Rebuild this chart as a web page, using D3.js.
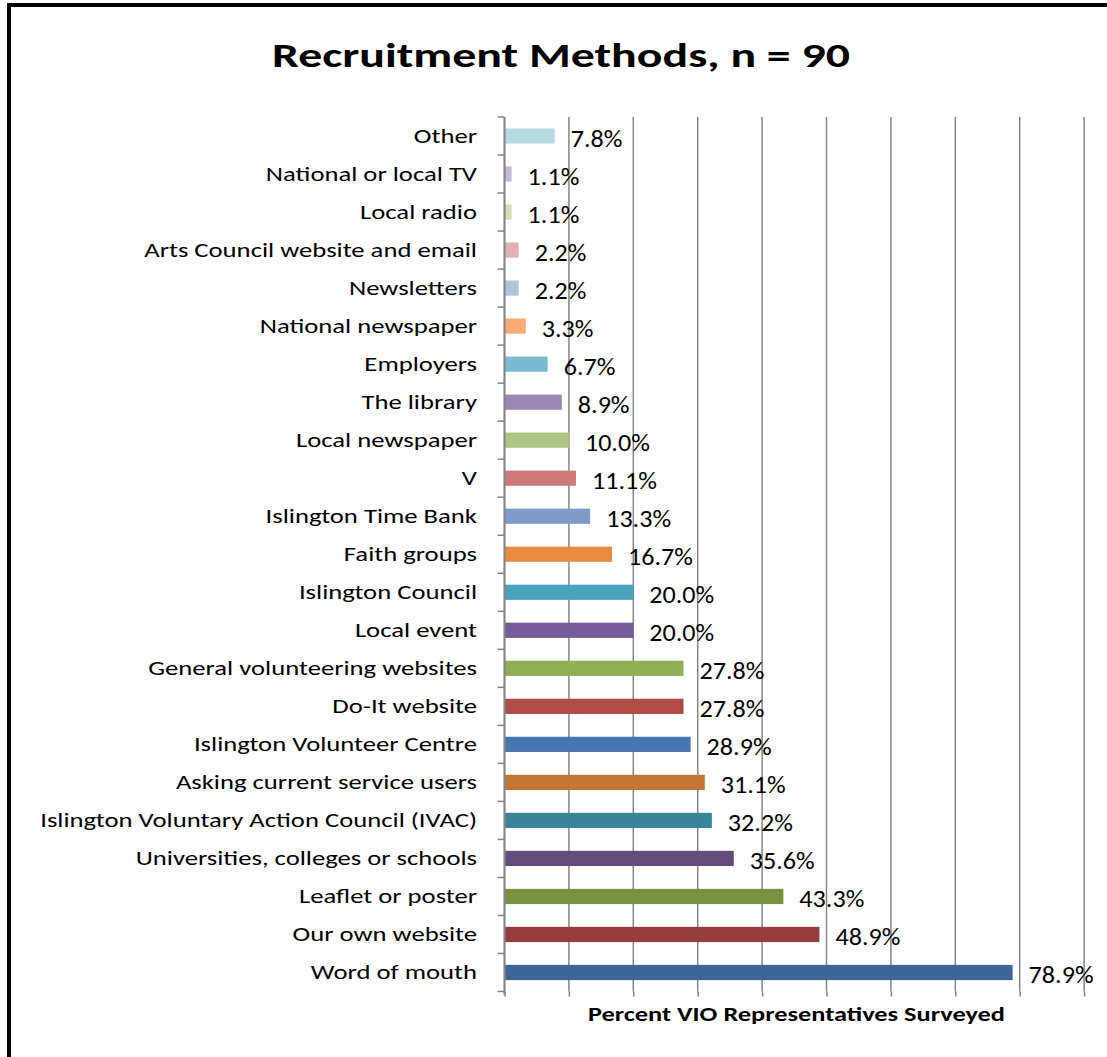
<!DOCTYPE html>
<html>
<head>
<meta charset="utf-8">
<script src="https://cdn.jsdelivr.net/npm/d3@7"></script>
<style>
  html, body { margin: 0; padding: 0; background: #fff; }
  svg { display: block; }
  text { font-family: Carlito, Lato, "Open Sans", sans-serif; }
</style>
</head>
<body>
<svg id="chart" width="1107" height="1057"></svg>
<script>
// Recruitment methods, listed from top row to bottom row
const categories = [
  "Other",
  "National or local TV",
  "Local radio",
  "Arts Council website and email",
  "Newsletters",
  "National newspaper",
  "Employers",
  "The library",
  "Local newspaper",
  "V",
  "Islington Time Bank",
  "Faith groups",
  "Islington Council",
  "Local event",
  "General volunteering websites",
  "Do-It website",
  "Islington Volunteer Centre",
  "Asking current service users",
  "Islington Voluntary Action Council (IVAC)",
  "Universities, colleges or schools",
  "Leaflet or poster",
  "Our own website",
  "Word of mouth"
];

// Percent of VIO representatives surveyed
const values = [
  7.8, 1.1, 1.1, 2.2, 2.2, 3.3, 6.7, 8.9, 10.0, 11.1, 13.3, 16.7,
  20.0, 20.0, 27.8, 27.8, 28.9, 31.1, 32.2, 35.6, 43.3, 48.9, 78.9
];

// One fill per bar
const barColors = [
  "#b7d9e4", "#c4b8d6", "#d3dfb9", "#e0b3b2", "#b3c2df", "#f9ab75",
  "#7cbad0", "#9b87b5", "#aec584", "#cd7b79", "#7f9bc8", "#e98c40",
  "#4aa3bc", "#765c97", "#93b056", "#b14b48", "#4876b0", "#c47434",
  "#388597", "#624c7c", "#7a9141", "#943d3b", "#3e6596"
];

const xTicks = [0, 10, 20, 30, 40, 50, 60, 70, 80, 90, 100];

const chartTitle = "Recruitment Methods, n = 90";
const xAxisTitle = "Percent VIO Representatives Surveyed";

const svg = d3.select("#chart");

// Outer chart frame (runs past the right and bottom edges)
svg.append("rect")
  .attr("x", 9).attr("y", 5)
  .attr("width", 1140).attr("height", 1080)
  .attr("fill", "none")
  .attr("stroke", "#000")
  .attr("stroke-width", 4);

const plot = { left: 504.5, right: 1148.5, top: 117, bottom: 991.5 };

const x = d3.scaleLinear().domain([0, 100]).range([plot.left, plot.right]);
const y = d3.scaleBand().domain(categories).range([plot.top, plot.bottom])
  .paddingInner(0.6).paddingOuter(0.3);
const yBand = d3.scaleBand().domain(categories).range([plot.top, plot.bottom]);
const rowMid = c => yBand(c) + yBand.bandwidth() / 2;

const axisGrey = "#868686";

// Vertical gridlines
svg.append("g")
  .selectAll("line")
  .data(xTicks.slice(1))
  .join("line")
  .attr("x1", d => x(d)).attr("x2", d => x(d))
  .attr("y1", plot.top).attr("y2", plot.bottom)
  .attr("stroke", axisGrey)
  .attr("stroke-width", 1.5);

// Bottom axis: tick marks only, no line, no labels
const xAxis = svg.append("g")
  .attr("transform", `translate(0,${plot.bottom})`)
  .call(d3.axisBottom(x).tickValues(xTicks).tickSize(5).tickFormat(""));
xAxis.select(".domain").remove();
xAxis.selectAll(".tick line").attr("stroke", axisGrey).attr("stroke-width", 1.5);

// Bars
svg.append("g")
  .selectAll("rect")
  .data(categories)
  .join("rect")
  .attr("x", x(0))
  .attr("y", d => y(d))
  .attr("width", (d, i) => x(values[i]) - x(0))
  .attr("height", y.bandwidth())
  .attr("fill", (d, i) => barColors[i]);

// Left axis with ticks at the category boundaries
const boundaries = categories.map(c => yBand(c)).concat([plot.bottom]);
const yAxisG = svg.append("g");
yAxisG.append("line")
  .attr("x1", plot.left).attr("x2", plot.left)
  .attr("y1", plot.top).attr("y2", plot.bottom + 3)
  .attr("stroke", axisGrey).attr("stroke-width", 2.2);
yAxisG.selectAll("line.tick")
  .data(boundaries)
  .join("line")
  .attr("class", "tick")
  .attr("x1", plot.left - 7).attr("x2", plot.left)
  .attr("y1", d => d).attr("y2", d => d)
  .attr("stroke", axisGrey).attr("stroke-width", 1.5);

// Category labels, set in a slightly wide-set face
const catLabels = svg.append("g")
  .selectAll("text")
  .data(categories)
  .join("text")
  .attr("text-anchor", "end")
  .attr("font-size", 20)
  .attr("fill", "#000")
  .text(d => d);
const longest = d3.max(catLabels.nodes(), n => n.getComputedTextLength());
const catStretch = 437 / longest;
catLabels.attr("transform", d => `translate(477,${rowMid(d) + 7}) scale(${catStretch},1)`);

// Value labels
const valLabels = svg.append("g")
  .selectAll("text")
  .data(values)
  .join("text")
  .attr("font-size", 23.5)
  .attr("fill", "#000")
  .text(d => d.toFixed(1) + "%");
const refWidth = valLabels.filter((d, i) => i === values.length - 1).node().getComputedTextLength();
const valStretch = 65 / refWidth;
valLabels.attr("transform", (d, i) =>
  `translate(${x(d) + 16},${rowMid(categories[i]) + 10.5}) scale(${valStretch},1)`);

// Title
svg.append("text")
  .attr("x", 272).attr("y", 67)
  .attr("font-size", 35)
  .attr("font-weight", "bold")
  .attr("textLength", 578)
  .attr("lengthAdjust", "spacingAndGlyphs")
  .text(chartTitle);

// Axis title
svg.append("text")
  .attr("x", 588).attr("y", 1021)
  .attr("font-size", 21)
  .attr("font-weight", "bold")
  .attr("textLength", 417)
  .attr("lengthAdjust", "spacingAndGlyphs")
  .text(xAxisTitle);
</script>
</body>
</html>
